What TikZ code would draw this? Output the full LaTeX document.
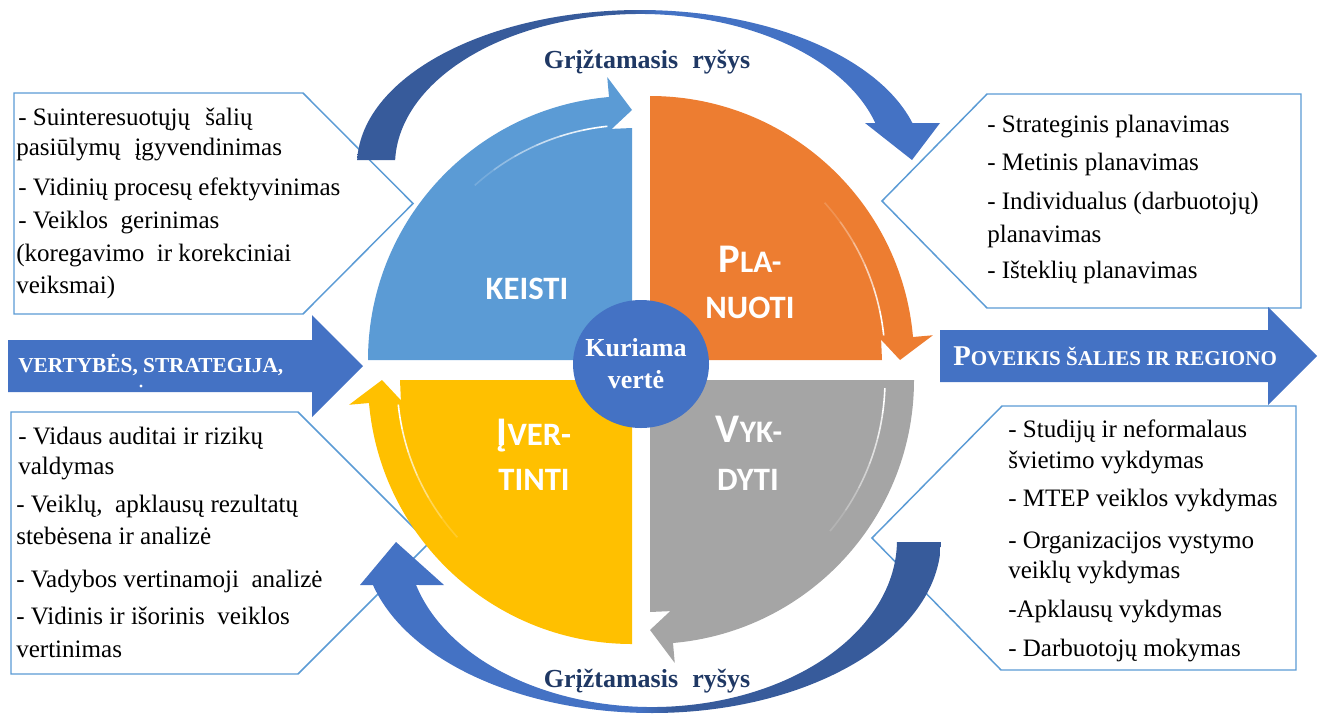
\documentclass[tikz,border=0pt]{standalone}
\usepackage{fontspec}
\setmainfont{Liberation Serif}
\newfontfamily\capfont{Carlito}
\usetikzlibrary{calc}

\definecolor{qblue}{HTML}{5B9BD5}
\definecolor{qorange}{HTML}{ED7D31}
\definecolor{qgray}{HTML}{A5A5A5}
\definecolor{qyellow}{HTML}{FFC000}
\definecolor{hubblue}{HTML}{4472C4}
\definecolor{fbdark}{HTML}{375B9B}
\definecolor{fblight}{HTML}{4472C4}
\definecolor{navytext}{HTML}{1F3864}
\definecolor{calloutline}{HTML}{5B9BD5}

% feedback arrows: dark half and light half meeting at the apex
\pgfdeclarehorizontalshading{fbtopshade}{100bp}{color(0bp)=(fbdark); color(48bp)=(fbdark); color(51bp)=(fblight); color(100bp)=(fblight)}
\pgfdeclarehorizontalshading{fbbottomshade}{100bp}{color(0bp)=(fblight); color(49bp)=(fblight); color(52bp)=(fbdark); color(100bp)=(fbdark)}

% one quarter of the cycle: quarter disc whose rim ends in an arrow head
% #1 corner, #2 rotation of the template (degrees), #3 colour
\newcommand\quadrantshape[3]{%
  \fill[#3] (#1) -- ($(#1)+({180+#2}:264)$)
    arc[start angle={180+#2}, end angle={265+#2}, radius=264]
    -- ($(#1)+({265+#2}:284)$) -- ($(#1)+({270+#2}:250)$)
    -- ($(#1)+({265+#2}:232)$) -- ($(#1)+({270+#2}:232)$) -- cycle;}

% thin white line separating the rim arrow from the body, fading out
% #1 corner, #2 faint end angle, #3 bright end angle
\newcommand\rimline[3]{%
  \foreach \k [evaluate=\k as \op using (\k+1)/6,
               evaluate=\k as \aa using #2+(#3-#2)*\k/6,
               evaluate=\k as \bb using #2+(#3-#2)*(\k+1)/6] in {0,...,5}
    \draw[white, line width=1.2pt, opacity=\op] ($(#1)+(\aa:235)$)
      arc[start angle=\aa, end angle=\bb, radius=235];}

\begin{document}
\begin{tikzpicture}[x=0.75pt, y=-0.75pt,
  callout/.style={draw=calloutline, line width=1.1pt, fill=white, line join=miter},
  calltext/.style={anchor=base west, inner sep=0pt, font=\fontsize{18.8}{22}\selectfont},
  quadlabel/.style={anchor=base, inner sep=0pt, text=white, font=\capfont\bfseries\fontsize{24.5}{28}\selectfont},
  fbtext/.style={anchor=base, inner sep=0pt, text=navytext, font=\bfseries\fontsize{19.5}{22}\selectfont},
  hubtext/.style={anchor=base, inner sep=0pt, text=white, font=\bfseries\fontsize{19.5}{22}\selectfont},
  flowtext/.style={anchor=base west, inner sep=0pt, text=white, font=\bfseries\fontsize{16}{18}\selectfont}]

\useasboundingbox (0,0) rectangle (1325,715);

% callout frames
\draw[callout] (14,93) -- (303,93) -- (413,203.5) -- (303,314) -- (14,314) -- cycle;
\draw[callout] (1301,94) -- (987,94) -- (882,201) -- (987,308) -- (1301,308) -- cycle;
\draw[callout] (11,412) -- (298,412) -- (429,543) -- (298,674) -- (11,674) -- cycle;
\draw[callout] (1296,406) -- (1002,406) -- (872,538) -- (1001,670) -- (1296,670) -- cycle;

% input and output block arrows
\fill[hubblue] (8,340) -- (312,340) -- (312,315) -- (363,366) -- (312,417) -- (312,392) -- (8,392) -- cycle;
\fill[hubblue] (940,330) -- (1268,330) -- (1268,307) -- (1317,356) -- (1268,405) -- (1268,382) -- (940,382) -- cycle;
% clipped remnant of the input arrow's second line
\fill[white] (141,386) circle[radius=1.6];

% the four quarters
\coordinate (q1) at (632,360);
\coordinate (q2) at (650,360);
\coordinate (q3) at (650,380);
\coordinate (q4) at (632,380);
\quadrantshape{q1}{0}{qblue}
\quadrantshape{q2}{90}{qorange}
\quadrantshape{q3}{180}{qgray}
\quadrantshape{q4}{270}{qyellow}
\rimline{q1}{228}{264}
\rimline{q2}{318}{354}
\rimline{q3}{40}{2}
\rimline{q4}{138}{174}

% centre disc
\fill[hubblue] (641,364) ellipse[x radius=68, y radius=64];

% feedback arrows
\coordinate (tc) at (640,165);
\shade[shading=fbtopshade] ($(tc)+(181.85:283 and 155)$)
  arc[start angle=181.85, end angle=344.28, x radius=283, y radius=155]
  -- (940,123) -- (912,160) -- (865,123)
  -- ($(tc)+(343.85:245 and 151)$)
  arc[start angle=343.85, end angle=181.9, x radius=245, y radius=151] -- cycle;
\coordinate (bc) at (652,540);
\shade[shading=fbbottomshade] ($(bc)+(0.66:289 and 173)$)
  arc[start angle=0.66, end angle=164.92, x radius=289, y radius=173]
  -- (360,585) -- (396,542) -- (444,585)
  -- ($(bc)+(164.37:245 and 167)$)
  arc[start angle=164.37, end angle=0.69, x radius=245, y radius=167] -- cycle;

% labels
\node[fbtext] (fbtop) at (647,68) {Grįžtamasis\hspace{0.3em} ryšys};
\node[fbtext] (fbbottom) at (647,687) {Grįžtamasis\hspace{0.3em} ryšys};

\node[hubtext] (hub1) at (636,356) {Kuriama};
\node[hubtext] (hub2) at (636,388) {vertė};

\node[quadlabel] (keisti) at (527,299) {KEISTI};
\node[quadlabel] (plan1) at (750,272) {{\fontsize{30.5}{30}\selectfont P}{\fontsize{23.5}{28}\selectfont LA-}};
\node[quadlabel] (plan2) at (750,318) {NUOTI};
\node[quadlabel] (vyk1) at (749,442) {{\fontsize{30.5}{30}\selectfont V}{\fontsize{23.5}{28}\selectfont YK-}};
\node[quadlabel] (vyk2) at (748,490) {DYTI};
\node[quadlabel] (ivert1) at (534,445) {{\fontsize{30.5}{30}\selectfont Į}VER-};
\node[quadlabel] (ivert2) at (534,490) {TINTI};

\node[flowtext] (input) at (18,372) {VERTYBĖS, STRATEGIJA,};
\node[flowtext] (output) at (953,365) {{\fontsize{21.5}{22}\selectfont P}{\fontsize{15.8}{18}\selectfont OVEIKIS ŠALIES IR REGIONO}};

% change
\node[calltext] (tl1) at (18,125) {- Suinteresuotųjų\hspace{0.35em} šalių};
\node[calltext] (tl2) at (16,155) {pasiūlymų\hspace{0.3em} įgyvendinimas};
\node[calltext] (tl3) at (18,195) {- Vidinių procesų efektyvinimas};
\node[calltext] (tl4) at (18,228) {- Veiklos\hspace{0.25em} gerinimas};
\node[calltext] (tl5) at (16,261) {(koregavimo\hspace{0.25em} ir korekciniai};
\node[calltext] (tl6) at (16,293) {veiksmai)};

% plan
\node[calltext] (tr1) at (987,132) {- Strateginis planavimas};
\node[calltext] (tr2) at (987,170) {- Metinis planavimas};
\node[calltext] (tr3) at (987,209) {- Individualus (darbuotojų)};
\node[calltext] (tr4) at (987,242) {planavimas};
\node[calltext] (tr5) at (987,278) {- Išteklių planavimas};

% evaluate
\node[calltext] (bl1) at (18,444) {- Vidaus auditai ir rizikų};
\node[calltext] (bl2) at (18,474) {valdymas};
\node[calltext] (bl3) at (16,512) {- Veiklų,\hspace{0.25em} apklausų rezultatų};
\node[calltext] (bl4) at (16,544) {stebėsena ir analizė};
\node[calltext] (bl5) at (16,587) {- Vadybos vertinamoji\hspace{0.25em} analizė};
\node[calltext] (bl6) at (16,624) {- Vidinis ir išorinis\hspace{0.25em} veiklos};
\node[calltext] (bl7) at (16,657) {vertinimas};

% carry out
\node[calltext] (br1) at (1008,437) {- Studijų ir neformalaus};
\node[calltext] (br2) at (1008,468) {švietimo vykdymas};
\node[calltext] (br3) at (1008,506) {- MTEP veiklos vykdymas};
\node[calltext] (br4) at (1008,548) {- Organizacijos vystymo};
\node[calltext] (br5) at (1008,578) {veiklų vykdymas};
\node[calltext] (br6) at (1008,617) {-Apklausų vykdymas};
\node[calltext] (br7) at (1008,656) {- Darbuotojų mokymas};
\end{tikzpicture}
\end{document}
